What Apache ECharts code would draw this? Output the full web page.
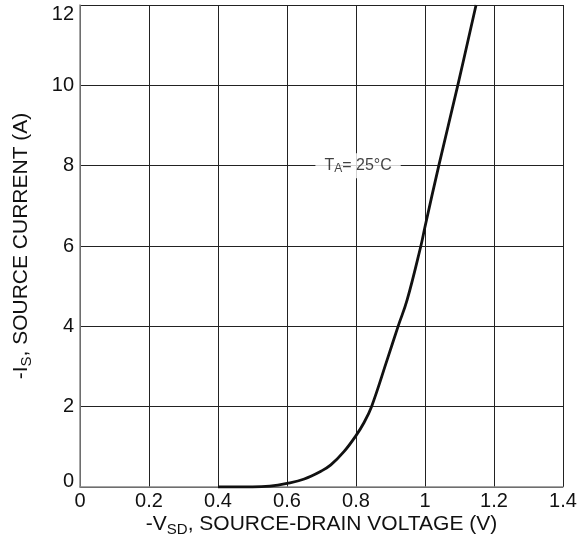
<!DOCTYPE html>
<html>
<head>
<meta charset="utf-8">
<script src="https://cdn.jsdelivr.net/npm/echarts@6/dist/echarts.min.js"></script>
<style>html,body{margin:0;padding:0;background:#fff}#c{width:588px;height:542px}</style>
</head>
<body>
<div id="c"></div>
<script>
var voltage = [0.4, 0.5, 0.55, 0.6, 0.65, 0.7, 0.727, 0.765, 0.8, 0.823, 0.845, 0.89, 0.922, 0.948, 0.988, 1.0, 1.04, 1.095, 1.148];
var current = [0, 0, 0.02, 0.09, 0.2, 0.4, 0.55, 0.88, 1.28, 1.6, 2.0, 3.16, 4.0, 4.65, 6.0, 6.48, 8.0, 10.0, 12.0];
var annotationPos = [0.806, 8];
var xTicks = [0, 0.2, 0.4, 0.6, 0.8, 1, 1.2, 1.4];
var yTicks = [0, 2, 4, 6, 8, 10, 12];

var chart = echarts.init(document.getElementById('c'));
var font = '"Liberation Sans", Arial, sans-serif';
chart.setOption({
  animation: false,
  grid: {left: 80, right: 25, top: 5, bottom: 55, containLabel: false, outerBoundsMode: 'none'},
  xAxis: {
    type: 'value', min: 0, max: 1.4, interval: 0.2,
    axisLine: {show: true, lineStyle: {color: '#888', width: 1.5}},
    axisTick: {show: false},
    splitLine: {show: true, lineStyle: {color: '#222', width: 1}},
    axisLabel: {color: '#111', fontSize: 20, fontFamily: font, margin: 4,
      formatter: function(v){ return String(Math.round(v*10)/10); }},
    name: '{n|-V}{s|SD}{n|, SOURCE-DRAIN VOLTAGE (V)}',
    nameLocation: 'middle', nameGap: 25, nameMoveOverlap: false,
    nameTextStyle: {rich: {
      n: {fontSize: 21, fontFamily: font, color: '#111'},
      s: {fontSize: 15, fontFamily: font, color: '#111', verticalAlign: 'bottom', padding: [10,0,0,0]}
    }}
  },
  yAxis: {
    type: 'value', min: 0, max: 12, interval: 2,
    axisLine: {show: true, lineStyle: {color: '#888', width: 1.5}},
    axisTick: {show: false},
    splitLine: {show: true, lineStyle: {color: '#222', width: 1}},
    axisLabel: {color: '#111', fontSize: 20, fontFamily: font, margin: 6,
      formatter: function(v){
        if (v === 12) return '{top|12}';
        if (v === 0) return '{bot|0}';
        return String(v);
      },
      rich: {
        top: {fontSize: 20, fontFamily: font, color: '#111', padding: [18,0,0,0]},
        bot: {fontSize: 20, fontFamily: font, color: '#111', padding: [0,0,12,0]}
      }
    },
    name: '{n|-I}{s|S}{n|, SOURCE CURRENT (A)}',
    nameLocation: 'middle', nameGap: 46, nameRotate: 90, nameMoveOverlap: false,
    nameTextStyle: {rich: {
      n: {fontSize: 21, fontFamily: font, color: '#111'},
      s: {fontSize: 15, fontFamily: font, color: '#111', verticalAlign: 'bottom', padding: [10,0,0,0]}
    }}
  },
  series: [{
    type: 'line',
    data: voltage.map(function(v,i){ return [v, current[i]]; }),
    smooth: 0.4,
    showSymbol: false,
    lineStyle: {color: '#111', width: 2.8},
    clip: true
  }, {
    type: 'scatter',
    data: [annotationPos],
    symbolSize: 0,
    z: 5,
    label: {
      show: true, position: 'inside',
      formatter: '{n|T}{s|A}{n|= 25°C}',
      backgroundColor: '#fff',
      padding: [3, 9, 3, 9],
      rich: {
        n: {fontSize: 16, fontFamily: font, color: '#111'},
        s: {fontSize: 12, fontFamily: font, color: '#111', verticalAlign: 'bottom', padding: [7,0,0,0]}
      }
    }
  }]
});
</script>
</body>
</html>
